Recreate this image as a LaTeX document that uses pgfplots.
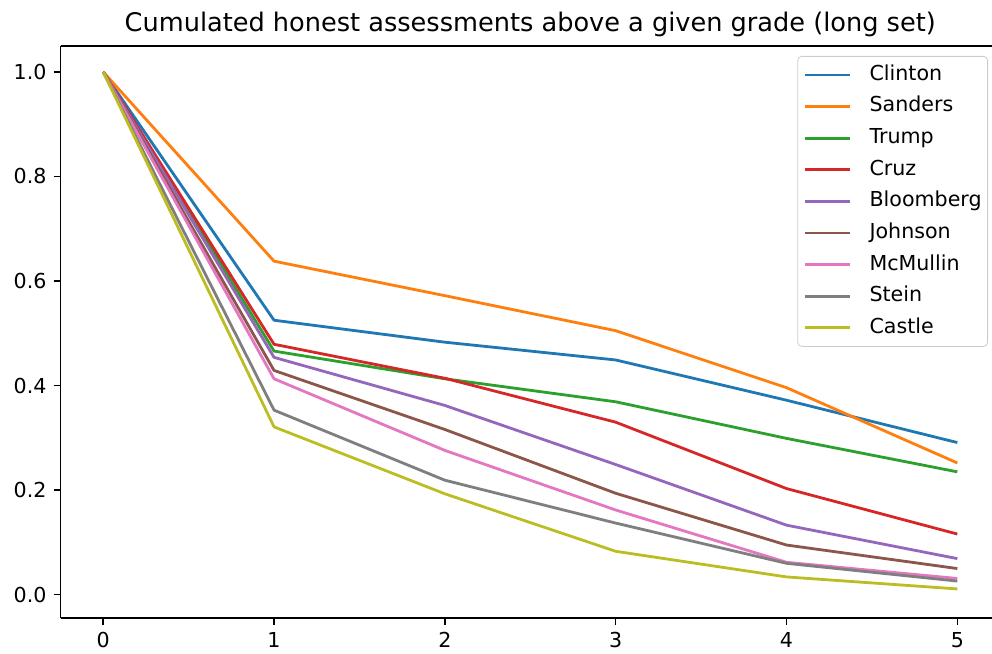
\documentclass[border=0pt]{standalone}
\usepackage{fontspec}
\setmainfont{DejaVu Sans}
\usepackage{pgfplots}
\pgfplotsset{compat=1.18}
\definecolor{c0}{HTML}{1F77B4}
\definecolor{c1}{HTML}{FF7F0E}
\definecolor{c2}{HTML}{2CA02C}
\definecolor{c3}{HTML}{D62728}
\definecolor{c4}{HTML}{9467BD}
\definecolor{c5}{HTML}{8C564B}
\definecolor{c6}{HTML}{E377C2}
\definecolor{c7}{HTML}{7F7F7F}
\definecolor{c8}{HTML}{BCBD22}
\begin{document}
\begin{tikzpicture}
\begin{axis}[
  scale only axis, width=465.75pt, height=286pt,
  xmin=-0.25, xmax=5.203, ymin=-0.0446, ymax=1.0496,
  axis y line*=left,
  xtick pos=bottom, ytick pos=left,
  xtick={0,1,2,3,4,5},
  ytick={0,0.2,0.4,0.6,0.8,1},
  yticklabel style={/pgf/number format/.cd, fixed, fixed zerofill, precision=1},
  /pgf/number format/assume math mode=true,
  tick align=outside, major tick length=3.5pt,
  tick style={black, line width=0.8pt},
  axis line style={line width=0.8pt},
  tick label style={font=\fontsize{10.3}{12}\selectfont},
  title={Cumulated honest assessments above a given grade (long set)},
  every axis title/.style={at={(0.5,1)}, anchor=base, yshift=7.2pt, xshift=2pt, font=\fontsize{12.8}{15}\selectfont},
  every axis plot/.append style={line width=1.4pt, line join=round},
  legend cell align=left,
  legend image code/.code={\draw[#1] (0pt,0pt) -- (22.5pt,0pt);},
  legend style={at={(1,1)}, anchor=north east, xshift=-2pt, yshift=-5pt,
    draw=black!20, rounded corners=2pt, fill=white, fill opacity=0.8, text opacity=1,
    font=\fontsize{10.3}{12}\selectfont,
    inner xsep=3pt, inner ysep=4.2pt, row sep=5.6pt, column sep=9pt,
    nodes={inner sep=0pt, text height=7.8pt, text depth=2.4pt}},
]
\addplot[c0] coordinates {(0,1) (1,0.525) (2,0.483) (3,0.449) (4,0.372) (5,0.291)};
\addlegendentry{Clinton}
\addplot[c1] coordinates {(0,1) (1,0.638) (2,0.572) (3,0.505) (4,0.396) (5,0.252)};
\addlegendentry{Sanders}
\addplot[c2] coordinates {(0,1) (1,0.466) (2,0.413) (3,0.369) (4,0.299) (5,0.235)};
\addlegendentry{Trump}
\addplot[c3] coordinates {(0,1) (1,0.479) (2,0.414) (3,0.330) (4,0.203) (5,0.116)};
\addlegendentry{Cruz}
\addplot[c4] coordinates {(0,1) (1,0.454) (2,0.362) (3,0.249) (4,0.133) (5,0.069)};
\addlegendentry{Bloomberg}
\addplot[c5] coordinates {(0,1) (1,0.429) (2,0.316) (3,0.194) (4,0.095) (5,0.050)};
\addlegendentry{Johnson}
\addplot[c6] coordinates {(0,1) (1,0.413) (2,0.276) (3,0.162) (4,0.062) (5,0.031)};
\addlegendentry{McMullin}
\addplot[c7] coordinates {(0,1) (1,0.353) (2,0.219) (3,0.137) (4,0.060) (5,0.026)};
\addlegendentry{Stein}
\addplot[c8] coordinates {(0,1) (1,0.321) (2,0.193) (3,0.083) (4,0.034) (5,0.011)};
\addlegendentry{Castle}
\end{axis}
\pgfresetboundingbox
\path ([xshift=-30.25pt,yshift=-17.5pt]current axis.south west) rectangle ([yshift=23pt]current axis.north east);
\end{tikzpicture}
\end{document}
